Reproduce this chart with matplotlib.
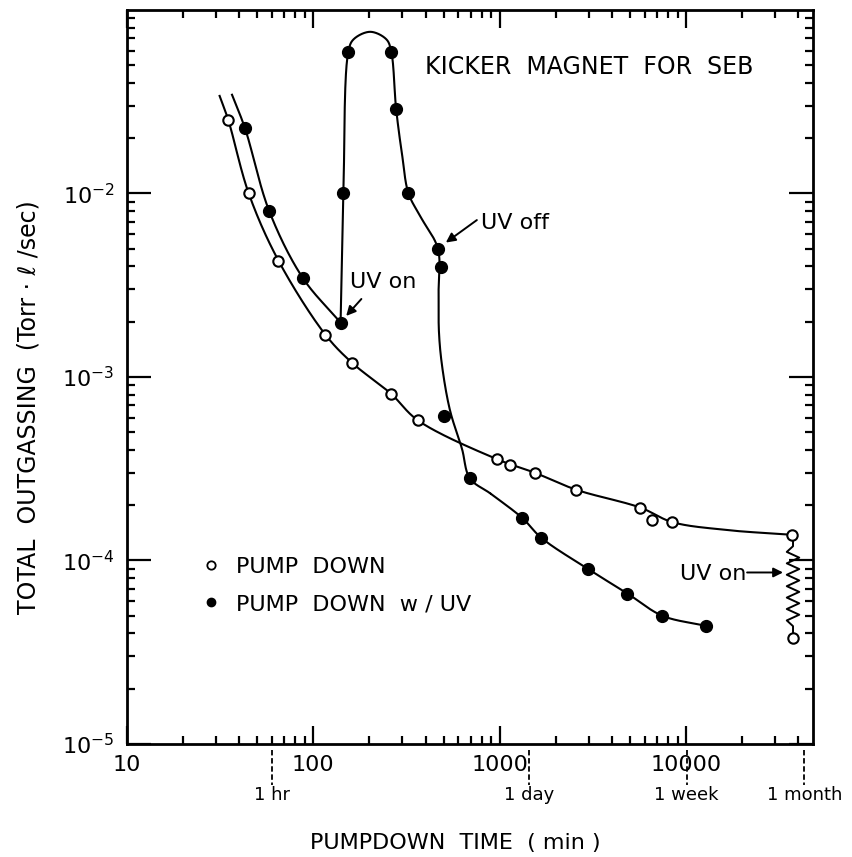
import numpy as np
import matplotlib
matplotlib.use('Agg')
from matplotlib import pyplot as plt
from matplotlib import transforms as mtransforms
from matplotlib.lines import Line2D
from matplotlib.ticker import LogLocator, NullFormatter

plt.rcParams['font.family'] = 'DejaVu Sans'
plt.rcParams['mathtext.default'] = 'regular'

# measured points, PUMP DOWN (open circles)
pd_time = [35, 45, 65, 116, 162, 261, 364, 970, 1140, 1550, 2570, 5690, 6600, 8400, 37000]
pd_rate = [2.5e-2, 1.0e-2, 4.3e-3, 1.7e-3, 1.19e-3, 8.1e-4, 5.8e-4, 3.56e-4, 3.3e-4,
           3.0e-4, 2.43e-4, 1.94e-4, 1.66e-4, 1.62e-4, 1.38e-4]
# after UV switched on at one month
pd_uv_time = 37500
pd_uv_rate = 3.8e-5

# measured points, PUMP DOWN w/UV (filled circles)
uv_time = [43, 58, 88, 140, 145, 154, 262, 278, 324, 466, 483, 502, 692,
           1325, 1670, 2970, 4850, 7450, 12800]
uv_rate = [2.26e-2, 8.0e-3, 3.45e-3, 1.98e-3, 1.0e-2, 5.9e-2, 5.9e-2, 2.9e-2, 1.0e-2,
           5.0e-3, 3.95e-3, 6.1e-4, 2.8e-4, 1.7e-4, 1.33e-4, 9.0e-5, 6.6e-5, 5.0e-5, 4.4e-5]

# hand drawn fit lines
pd_fit_time = [31.4, 35, 45, 65, 116, 162, 261, 364, 970, 1550, 2570, 5690, 8400, 16000, 37000]
pd_fit_rate = [3.4e-2, 2.5e-2, 1.0e-2, 4.3e-3, 1.7e-3, 1.19e-3, 8.1e-4, 5.8e-4, 3.56e-4,
               3.0e-4, 2.43e-4, 1.94e-4, 1.62e-4, 1.47e-4, 1.38e-4]
uv_fit1_time = [36.6, 43, 58, 88, 140]
uv_fit1_rate = [3.45e-2, 2.26e-2, 8.0e-3, 3.45e-3, 1.98e-3]
uv_fit2_time = [140, 145, 154, 164, 202, 247, 262, 278, 300, 324, 378, 466, 470, 472,
                490, 541, 627, 692, 895, 1325, 1670, 2970, 4850, 7450, 12800]
uv_fit2_rate = [1.98e-3, 1.0e-2, 5.9e-2, 6.9e-2, 7.6e-2, 6.9e-2, 5.9e-2, 2.9e-2, 1.6e-2,
                1.0e-2, 7.4e-3, 5.0e-3, 3.0e-3, 1.76e-3, 1.16e-3, 6.58e-4, 4.07e-4, 2.8e-4,
                2.31e-4, 1.7e-4, 1.33e-4, 9.0e-5, 6.6e-5, 5.0e-5, 4.4e-5]

time_marks = [60, 1440, 10080, 43200]
time_labels = ['1 hr', '1 day', '1 week', '1 month']

FS = 16


def smooth(xs, ys, n=40):
    # centripetal catmull-rom through the knots, in log-log space
    p = np.column_stack([np.log10(xs), np.log10(ys)])
    p = np.vstack([2 * p[0] - p[1], p, 2 * p[-1] - p[-2]])
    out = []
    for i in range(1, len(p) - 2):
        p0, p1, p2, p3 = p[i - 1:i + 3]
        t0 = 0.0
        t1 = t0 + np.linalg.norm(p1 - p0) ** 0.5
        t2 = t1 + np.linalg.norm(p2 - p1) ** 0.5
        t3 = t2 + np.linalg.norm(p3 - p2) ** 0.5
        t = np.linspace(t1, t2, n)[:, None]
        a1 = (t1 - t) / (t1 - t0) * p0 + (t - t0) / (t1 - t0) * p1
        a2 = (t2 - t) / (t2 - t1) * p1 + (t - t1) / (t2 - t1) * p2
        a3 = (t3 - t) / (t3 - t2) * p2 + (t - t2) / (t3 - t2) * p3
        b1 = (t2 - t) / (t2 - t0) * a1 + (t - t0) / (t2 - t0) * a2
        b2 = (t3 - t) / (t3 - t1) * a2 + (t - t1) / (t3 - t1) * a3
        out.append((t2 - t) / (t2 - t1) * b1 + (t - t1) / (t2 - t1) * b2)
    out = np.vstack(out)
    return 10 ** out[:, 0], 10 ** out[:, 1]


fig = plt.figure(figsize=(8.53, 8.57), dpi=100)
ax = fig.add_axes([0.1489, 0.1319, 0.8042, 0.8565])
ax.set_xscale('log')
ax.set_yscale('log')
ax.set_xlim(10, 48000)
ax.set_ylim(1e-5, 1e-1)

# fit lines
for xs, ys in [(pd_fit_time, pd_fit_rate), (uv_fit1_time, uv_fit1_rate),
               (uv_fit2_time, uv_fit2_rate)]:
    sx, sy = smooth(xs, ys)
    ax.plot(sx, sy, color='black', lw=1.5, zorder=2)

# spring symbol between the two one-month points
lz = np.linspace(np.log10(pd_rate[-1]), np.log10(pd_uv_rate), 19)
zx = np.full(lz.size, float(pd_uv_time))
zx[3:-3:2] = pd_uv_time / 1.08
zx[4:-3:2] = pd_uv_time * 1.08
zx[0] = pd_time[-1]
ax.plot(zx, 10 ** lz, color='black', lw=1.4, zorder=2)

ax.plot(pd_time, pd_rate, 'o', ms=7.5, mfc='white', mec='black', mew=1.5, zorder=3)
ax.plot([pd_uv_time], [pd_uv_rate], 'o', ms=7.5, mfc='white', mec='black', mew=1.5, zorder=3)
ax.plot(uv_time, uv_rate, 'o', ms=8.5, mfc='black', mec='black', zorder=3)

# axes styling
for sp in ax.spines.values():
    sp.set_linewidth(2.0)
ax.set_xticks([10, 100, 1000, 10000])
ax.set_xticklabels(['10', '100', '1000', '10000'])
ax.set_yticks([1e-5, 1e-4, 1e-3, 1e-2])
ax.set_yticklabels([r'$10^{-5}$', r'$10^{-4}$', r'$10^{-3}$', r'$10^{-2}$'])
ax.xaxis.set_minor_locator(LogLocator(base=10, subs=np.arange(2, 10)))
ax.yaxis.set_minor_locator(LogLocator(base=10, subs=np.arange(2, 10)))
ax.xaxis.set_minor_formatter(NullFormatter())
ax.yaxis.set_minor_formatter(NullFormatter())
ax.tick_params(which='both', direction='in', top=True, right=True, width=1.6)
ax.tick_params(axis='x', which='major', length=13, pad=8, labelsize=FS)
ax.tick_params(axis='x', which='minor', length=6)
ax.tick_params(axis='y', which='major', length=17, pad=9, labelsize=FS)
ax.tick_params(axis='y', which='minor', length=6)

ax.set_xlabel('PUMPDOWN  TIME  ( min )', fontsize=FS, va='center')
ax.xaxis.set_label_coords(0.478, -0.135)
ax.set_ylabel('TOTAL  OUTGASSING  (Torr \u00b7 \u2113 /sec)', fontsize=FS + 1, va='center')
ax.yaxis.set_label_coords(-0.144, 0.459)

# time marks under the axis
trans = mtransforms.blended_transform_factory(ax.transData, ax.transAxes)
for t, lab in zip(time_marks, time_labels):
    ax.plot([t, t], [-0.008, -0.056], transform=trans, color='black', lw=1.3,
            ls=(0, (3, 1.5)), clip_on=False)
    ax.text(t, -0.070, lab, transform=trans, ha='center', va='center', fontsize=FS - 3)

ax.text(0.434, 0.922, 'KICKER  MAGNET  FOR  SEB', transform=ax.transAxes,
        ha='left', va='center', fontsize=FS + 1)

arrow = dict(arrowstyle='-|>', color='black', lw=1.4, mutation_scale=14, shrinkA=0, shrinkB=0)
ax.text(157, 2.9e-3, 'UV on', ha='left', va='bottom', fontsize=FS)
ax.annotate('', xy=(150, 2.15e-3), xytext=(181, 2.66e-3), arrowprops=arrow)
ax.text(791, 6.9e-3, 'UV off', ha='left', va='center', fontsize=FS)
ax.annotate('', xy=(514, 5.4e-3), xytext=(754, 7.16e-3), arrowprops=arrow)
ax.text(9300, 8.4e-5, 'UV on', ha='left', va='center', fontsize=FS)
ax.annotate('', xy=(33150, 8.6e-5), xytext=(21260, 8.6e-5), arrowprops=arrow)

handles = [Line2D([], [], ls='none', marker='o', ms=6, mfc='white', mec='black', mew=1.3),
           Line2D([], [], ls='none', marker='o', ms=6, mfc='black', mec='black')]
ax.legend(handles, ['PUMP  DOWN', 'PUMP  DOWN  w / UV'], loc='upper left',
          bbox_to_anchor=(0.111, 0.255), frameon=False, fontsize=FS, handlelength=0.75,
          handletextpad=0.72, labelspacing=0.78, borderpad=0, borderaxespad=0)

fig.savefig('out.png', dpi=100)
